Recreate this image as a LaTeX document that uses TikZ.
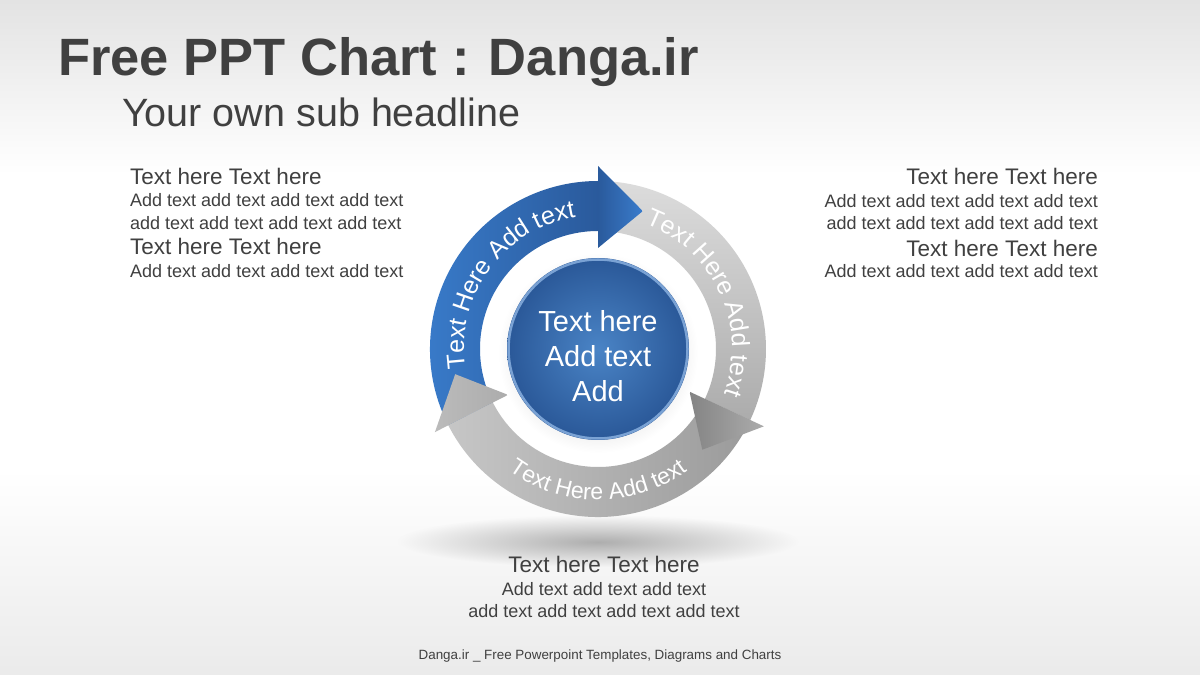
\documentclass[tikz,border=0pt]{standalone}
\usepackage{fontspec}
\setmainfont{Liberation Sans}
\usetikzlibrary{decorations.text}

\definecolor{inkgray}{RGB}{64,64,64}
\definecolor{bluelight}{RGB}{58,126,206}
\definecolor{bluedark}{RGB}{42,90,156}
\definecolor{bluetip}{RGB}{58,124,204}
\definecolor{graylight}{RGB}{220,220,220}
\definecolor{graymid}{RGB}{172,172,172}
\definecolor{graydark}{RGB}{132,132,132}
\definecolor{ballin}{RGB}{74,132,198}
\definecolor{ballout}{RGB}{42,88,152}
\definecolor{ballrim}{RGB}{122,162,212}

\newcommand\arcfont{\fontsize{25}{25}\selectfont}
\newcommand\lowarcfont{\fontsize{23}{23}\selectfont}

\tikzset{
  blockhead/.style={font=\fontsize{22.5}{22.5}\selectfont, text=inkgray, inner sep=0},
  blockline/.style={font=\fontsize{18}{18}\selectfont, text=inkgray, inner sep=0},
  arctext/.style={decorate, decoration={text along path, text align=center, text color=white, text={#1}}}
}

\begin{document}
\begin{tikzpicture}[x=1pt, y=1pt]
\useasboundingbox (0,0) rectangle (1200,675);

% background
\fill[white] (0,0) rectangle (1200,675);
\shade[top color=black!11, bottom color=white] (0,500) rectangle (1200,675);
\shade[top color=white, bottom color=black!8] (0,0) rectangle (1200,205);

% shadow under the cycle
\shade[inner color=black!32, outer color=black!3] (598,133) ellipse [x radius=200, y radius=26];

% headlines
\node[anchor=base west, inner sep=0, text=inkgray, font=\fontsize{52.5}{52.5}\selectfont\bfseries] (title) at (58,599) {Free PPT Chart : Danga.ir};
\node[anchor=base west, inner sep=0, text=inkgray, font=\fontsize{39.5}{39.5}\selectfont] (subtitle) at (122,548) {Your own sub headline};

% left block
\node[blockhead, anchor=base west] (lhead1) at (130,490) {Text here Text here};
\node[blockline, anchor=base west] (lline1) at (130,468) {Add text add text add text add text};
\node[blockline, anchor=base west] (lline2) at (130,445) {add text add text add text add text};
\node[blockhead, anchor=base west] (lhead2) at (130,420) {Text here Text here};
\node[blockline, anchor=base west] (lline3) at (130,397) {Add text add text add text add text};

% right block
\node[blockhead, anchor=base east] (rhead1) at (1098,490) {Text here Text here};
\node[blockline, anchor=base east] (rline1) at (1098,467) {Add text add text add text add text};
\node[blockline, anchor=base east] (rline2) at (1098,445) {add text add text add text add text};
\node[blockhead, anchor=base east] (rhead2) at (1098,418) {Text here Text here};
\node[blockline, anchor=base east] (rline3) at (1098,397) {Add text add text add text add text};

% bottom block
\node[blockhead, anchor=base] (bhead) at (604,102) {Text here Text here};
\node[blockline, anchor=base] (bline1) at (604,79) {Add text add text add text};
\node[blockline, anchor=base] (bline2) at (604,57) {add text add text add text add text};

\node[anchor=base, inner sep=0, text=inkgray, font=\fontsize{13.4}{13.4}\selectfont] (footer) at (600,16) {Danga.ir \_ Free Powerpoint Templates, Diagrams and Charts};

\begin{scope}[shift={(598,326)}]
% ring bodies
\shade[left color=bluelight, right color=bluedark] (207:168) arc[start angle=207, end angle=90, radius=168] -- (90:118) arc[start angle=90, end angle=207, radius=118] -- cycle;
\shade[top color=graylight, bottom color=graymid] (90:168) arc[start angle=90, end angle=-25, radius=168] -- (-25:118) arc[start angle=-25, end angle=90, radius=118] -- cycle;
\shade[left color=graylight!90!black, right color=graymid!90!black] (-25:168) arc[start angle=-25, end angle=-153, radius=168] -- (-153:118) arc[start angle=-153, end angle=-25, radius=118] -- cycle;

% arrow heads
\shade[left color=bluedark, right color=bluetip] (90:183) -- (72:145) -- (90:101) -- cycle;
\shade[left color=graydark, right color=graymid] (-25:183) -- (-44:145) -- (-25:101) -- cycle;
\shade[left color=graylight!85!black, right color=graymid] (-153:183) -- (-170:145) -- (-153:101) -- cycle;

% texts on the ring
\path[arctext={|\arcfont|Text Here Add text}] (204:134) arc[start angle=204, end angle=84, radius=134];
\path[arctext={|\arcfont|Text Here Add text}] (85:134) arc[start angle=85, end angle=-35, radius=134];
\path[arctext={|\lowarcfont|Text Here Add text}] (205:151) arc[start angle=205, end angle=335, radius=151];

% sphere
\shade[inner color=black!30, outer color=white] (0,-4) circle (100);
\shade[inner color=ballin, outer color=ballout] (0,0) circle (91);
\draw[ballrim, line width=2.5] (0,0) circle (89.5);
\node[text=white, align=center, inner sep=0, font=\fontsize{29}{35}\selectfont] (core) at (0,-7) {Text here\\Add text\\Add};
\end{scope}

\end{tikzpicture}
\end{document}
